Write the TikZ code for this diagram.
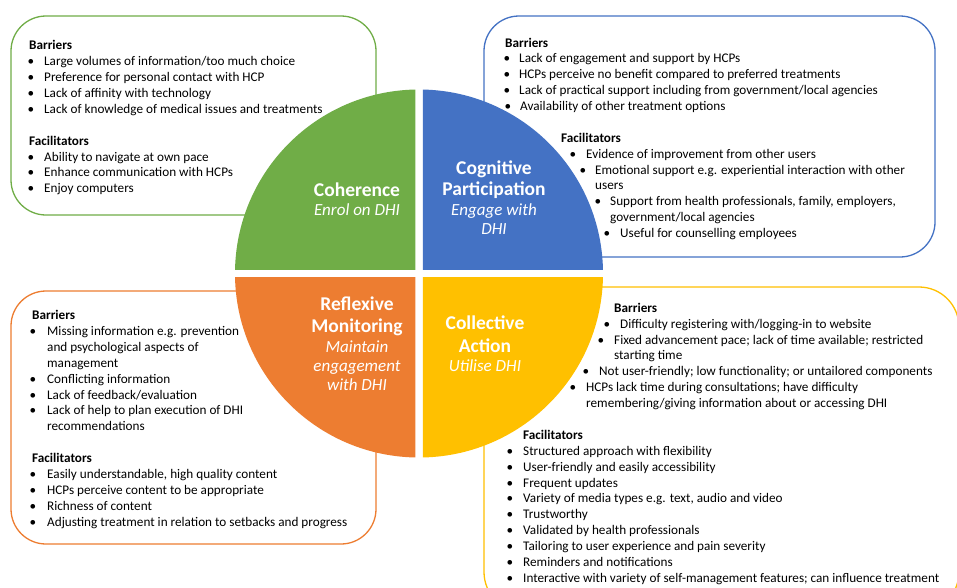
\documentclass[tikz,border=0pt]{standalone}
\usepackage{fontspec}
\setmainfont{Carlito}
\usepackage{tikz}
\definecolor{cohgreen}{HTML}{70AD47}
\definecolor{cogblue}{HTML}{4472C4}
\definecolor{reforange}{HTML}{ED7D31}
\definecolor{colyellow}{HTML}{FFC000}

\begin{document}
\begin{tikzpicture}[x=1pt,y=-1pt,
  box/.style={line width=1.3pt,rounded corners=35pt},
  hd/.style={anchor=base west,inner sep=0pt,yshift=-4.5pt,font=\fontsize{13.2}{16}\selectfont\bfseries},
  itm/.style={anchor=base west,inner sep=0pt,yshift=-4.5pt,font=\fontsize{13.2}{16}\selectfont},
  bul/.style={anchor=base,inner sep=0pt,yshift=-4.5pt,font=\fontsize{13.2}{16}\selectfont},
  ttl/.style={anchor=base,inner sep=0pt,yshift=-6.5pt,text=white,font=\fontsize{19.5}{22}\selectfont\bfseries},
  sub/.style={anchor=base,inner sep=0pt,yshift=-5.5pt,text=white,font=\fontsize{17}{19}\selectfont\itshape}]
\clip (0,0) rectangle (957,587);
\fill[white] (0,0) rectangle (957,587);

\draw[box,cohgreen] (11,16) rectangle (376,215);
\draw[box,cogblue] (484,16) rectangle (935,257);
\draw[box,reforange] (11,291) rectangle (376,544);
\draw[box,colyellow,rounded corners=40pt] (484,287) rectangle (959,612);

\coordinate (c) at (419,273.5);
\foreach \col/\xa/\ya/\xb/\yb in %
{cohgreen/0/0/415.25/269.75,cogblue/422.75/0/957/269.75,reforange/0/277.25/415.25/587,colyellow/422.75/277.25/957/587} {
  \begin{scope}
    \clip (\xa,\ya) rectangle (\xb,\yb);
    \fill[\col] (c) circle (184pt);
  \end{scope}
}

\foreach \x/\y/\t in %
{357/190/Coherence,494/168/Cognitive,494/189/Participation,357/304/Reflexive,357/326/Monitoring,485/323/Collective,485/346/Action} {
  \node[ttl] (t\y) at (\x,\y) {\t};
}
\foreach \x/\y/\t in %
{357/210/{Enrol on DHI},494/210/{Engage with},494/229/DHI,357/347/Maintain,357/366/engagement,357/385/{with DHI},485/366/{Utilise DHI}} {
  \node[sub] (s\x-\y) at (\x,\y) {\t};
}

\node[hd] (cohbar) at (29,45) {Barriers};
\node[hd] (cohfac) at (29,141) {Facilitators};
\foreach \bx/\tx/\y/\t in %
{31/44/61/{Large volumes of information/too much choice},
 31/44/77/{Preference for personal contact with HCP},
 31/44/93/{Lack of affinity with technology},
 31/44/109/{Lack of knowledge of medical issues and treatments},
 31/44/157/{Ability to navigate at own pace},
 31/44/172/{Enhance communication with HCPs},
 31/44/188/{Enjoy computers}} {
  \ifdim\bx pt>0pt \node[bul] (cohb\y) at (\bx,\y) {\textbullet};\fi
  \node[itm] (cohi\y) at (\tx,\y) {\t};
}

\node[hd] (cogbar) at (505,43) {Barriers};
\node[hd] (cogfac) at (561,138) {Facilitators};
\foreach \bx/\tx/\y/\t in %
{507/519/58/{Lack of engagement and support by HCPs},
 507/519/74/{HCPs perceive no benefit compared to preferred treatments},
 507/519/90/{Lack of practical support including from government/local agencies},
 508/520/106/{Availability of other treatment options},
 573/586/154/{Evidence of improvement from other users},
 583/595/170/{Emotional support e.g. experiential interaction with other},
 0/595/185/{users},
 598/610/201/{Support from health professionals, family, employers,},
 0/610/217/{government/local agencies},
 607/620/233/{Useful for counselling employees}} {
  \ifdim\bx pt>0pt \node[bul] (cogb\y) at (\bx,\y) {\textbullet};\fi
  \node[itm] (cogi\y) at (\tx,\y) {\t};
}

\node[hd] (refbar) at (32,315) {Barriers};
\node[hd] (reffac) at (32,458) {Facilitators};
\foreach \bx/\tx/\y/\t in %
{33/47/331/{Missing information e.g. prevention},
 0/47/347/{and psychological aspects of},
 0/47/363/{management},
 33/47/379/{Conflicting information},
 33/47/395/{Lack of feedback/evaluation},
 33/47/410/{Lack of help to plan execution of DHI},
 0/47/426/{recommendations},
 33/47/474/{Easily understandable, high quality content},
 33/47/490/{HCPs perceive content to be appropriate},
 33/47/506/{Richness of content},
 33/47/522/{Adjusting treatment in relation to setbacks and progress}} {
  \ifdim\bx pt>0pt \node[bul] (refb\y) at (\bx,\y) {\textbullet};\fi
  \node[itm] (refi\y) at (\tx,\y) {\t};
}

\node[hd] (colbar) at (614,308) {Barriers};
\node[hd] (colfac) at (523,435) {Facilitators};
\foreach \bx/\tx/\y/\t in %
{607/620/324/{Difficulty registering with/logging-in to website},
 601/614/340/{Fixed advancement pace; lack of time available; restricted},
 0/614/355/{starting time},
 586/599/371/{Not user-friendly; low functionality; or untailored components},
 573/586/387/{HCPs lack time during consultations; have difficulty},
 0/586/403/{remembering/giving information about or accessing DHI},
 510/523/451/{Structured approach with flexibility},
 510/523/467/{User-friendly and easily accessibility},
 510/523/483/{Frequent updates},
 510/523/498/{Variety of media types e.g. text, audio and video},
 510/523/514/{Trustworthy},
 510/523/530/{Validated by health professionals},
 510/523/546/{Tailoring to user experience and pain severity},
 510/523/562/{Reminders and notifications},
 510/523/578/{Interactive with variety of self-management features; can influence treatment}} {
  \ifdim\bx pt>0pt \node[bul] (colb\y) at (\bx,\y) {\textbullet};\fi
  \node[itm] (coli\y) at (\tx,\y) {\t};
}
\end{tikzpicture}
\end{document}
